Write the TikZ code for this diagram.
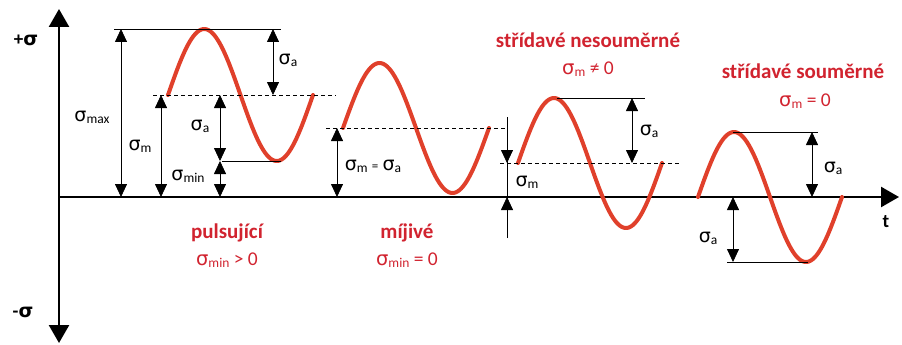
\documentclass[tikz,border=0pt]{standalone}
\usepackage{fontspec}
\setmainfont{Carlito}
\newfontfamily\sgfont{DejaVu Sans}
\usetikzlibrary{arrows.meta}
\definecolor{wavered}{HTML}{E0402B}
\definecolor{labred}{HTML}{D1232F}
\newcommand{\sgm}{{\sgfont σ}}
\newcommand{\sg}[1]{\sgm\raisebox{-0.1em}{\fontsize{13.5}{13.5}\selectfont #1}}
\tikzset{
 wave/.style={wavered, line width=4pt, line cap=round},
 dim/.style={line width=0.8pt, {Triangle[width=12pt,length=13pt]}-{Triangle[width=12pt,length=13pt]}},
 onearrow/.style={line width=0.8pt, -{Triangle[width=12pt,length=13pt]}},
 refl/.style={line width=0.7pt},
 dsh/.style={line width=0.7pt, dash pattern=on 4pt off 3pt},
 axisl/.style={line width=2.5pt, {Triangle[width=20pt,length=18pt]}-{Triangle[width=20pt,length=18pt]}},
 axisr/.style={line width=2.5pt, -{Triangle[width=20pt,length=18pt]}},
 sig/.style={font=\fontsize{19}{22}\selectfont, inner sep=0pt},
 cat/.style={font=\bfseries\fontsize{21}{23}\selectfont, text=labred, inner sep=0pt},
 catsig/.style={font=\fontsize{19.5}{22}\selectfont, text=labred, inner sep=0pt},
 axlab/.style={font=\bfseries\fontsize{19}{21}\selectfont, inner sep=0pt},
}
\begin{document}
\begin{tikzpicture}[x=1pt,y=-1pt]
\useasboundingbox (0,0) rectangle (902,345);
% axes
\coordinate (ytop) at (59,9);
\coordinate (ybot) at (59,343);
\coordinate (O) at (59,197);
\coordinate (xend) at (899,197);
\draw[axisl] (ybot) -- (ytop);
\draw[axisr] (O) -- (xend);
\node[axlab] (plus) at (26,40) {+{\sgfont\bfseries σ}};
\node[axlab] (minus) at (23,312) {-{\sgfont\bfseries σ}};
\node[axlab] (tl) at (886,222) {t};

% wave 1 (pulsujici)
\draw[wave] plot[domain=0:360,samples=80] ({168+\x/360*145},{95-66*sin(\x)});
\coordinate (w1ta) at (114,29); \coordinate (w1tb) at (281,29);
\coordinate (w1ba) at (222,161); \coordinate (w1bb) at (281,161);
\coordinate (w1da) at (153,95); \coordinate (w1db) at (336,95);
\draw[refl] (w1ta) -- (w1tb);
\draw[refl] (w1ba) -- (w1bb);
\draw[dsh] (w1da) -- (w1db);
\coordinate (a1t) at (121,29); \coordinate (a1b) at (121,197);
\coordinate (a2t) at (161,95); \coordinate (a2b) at (161,197);
\coordinate (a3t) at (220,95); \coordinate (a3b) at (220,161);
\coordinate (a4b) at (220,197);
\coordinate (a5t) at (273,29); \coordinate (a5b) at (273,95);
\draw[dim] (a1t) -- (a1b);
\draw[dim] (a2t) -- (a2b);
\draw[dim] (a3t) -- (a3b);
\draw[dim] (a3b) -- (a4b);
\draw[dim] (a5t) -- (a5b);
\node[sig] (lmax) at (92,117) {\sg{max}};
\node[sig] (lm1) at (140,146) {\sg{m}};
\node[sig] (la1) at (200,126) {\sg{a}};
\node[sig] (lmin) at (188,176) {\sg{min}};
\node[sig] (la2) at (288,60) {\sg{a}};
\node[cat] (c1) at (227,233) {pulsující};
\node[catsig] (c1s) at (227,260) {\sg{min} > 0};

% wave 2 (mijive)
\draw[wave] plot[domain=0:360,samples=80] ({343+\x/360*146},{128-65*sin(\x)});
\coordinate (w2da) at (326,128); \coordinate (w2db) at (507,128);
\draw[dsh] (w2da) -- (w2db);
\coordinate (b1t) at (337,128); \coordinate (b1b) at (337,197);
\draw[dim] (b1t) -- (b1b);
\node[sig] (lma) at (373,166) {\sg{m} {\fontsize{13}{13}\selectfont =} \sg{a}};
\node[cat] (c2) at (407,233) {míjivé};
\node[catsig] (c2s) at (407,260) {\sg{min} = 0};

% wave 3 (stridave nesoumerne)
\draw[wave] plot[domain=0:360,samples=80] ({518+\x/360*144},{163-65*sin(\x)});
\coordinate (w3da) at (500,163); \coordinate (w3db) at (680,163);
\draw[dsh] (w3da) -- (w3db);
\coordinate (w3ta) at (557,98); \coordinate (w3tb) at (645,98);
\draw[refl] (w3ta) -- (w3tb);
\coordinate (v3t) at (507,117); \coordinate (v3b) at (507,238);
\draw[refl] (v3t) -- (v3b);
\coordinate (v3m) at (507,163); \coordinate (v3o) at (507,197);
\draw[onearrow] (v3t) -- (v3m);
\draw[onearrow] (v3b) -- (v3o);
\coordinate (c3t) at (632,98); \coordinate (c3b) at (632,163);
\draw[dim] (c3t) -- (c3b);
\node[sig] (la3) at (649,131) {\sg{a}};
\node[sig] (lm3) at (527,182) {\sg{m}};
\node[cat] (c3) at (588,40) {střídavé nesouměrné};
\node[catsig] (c3s) at (588,69) {\sg{m} ≠ 0};

% wave 4 (stridave soumerne)
\draw[wave] plot[domain=0:360,samples=80] ({698+\x/360*144},{197-65*sin(\x)});
\coordinate (w4ta) at (733,132); \coordinate (w4tb) at (818,132);
\coordinate (w4ba) at (727,262); \coordinate (w4bb) at (808,262);
\draw[refl] (w4ta) -- (w4tb);
\draw[refl] (w4ba) -- (w4bb);
\coordinate (d1t) at (812,132); \coordinate (d1b) at (812,197);
\coordinate (d2t) at (733,197); \coordinate (d2b) at (733,262);
\draw[dim] (d1t) -- (d1b);
\draw[dim] (d2t) -- (d2b);
\node[sig] (la4) at (833,168) {\sg{a}};
\node[sig] (la5) at (708,238) {\sg{a}};
\node[cat] (c4) at (803,71) {střídavé souměrné};
\node[catsig] (c4s) at (805,101) {\sg{m} = 0};
\end{tikzpicture}
\end{document}
